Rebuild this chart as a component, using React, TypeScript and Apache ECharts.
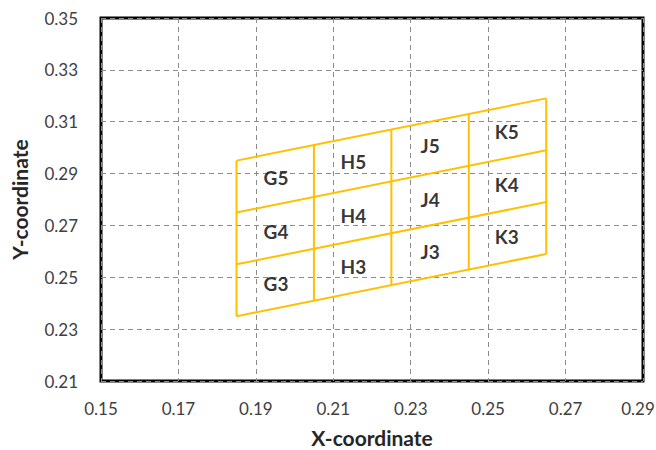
import React, { useEffect, useRef } from "react";
import * as echarts from "echarts";

// Column positions (x) of the grid's vertical lines, with their top/bottom y
const colX = [0.185, 0.205, 0.225, 0.245, 0.265];
const colTopY = [0.295, 0.301, 0.307, 0.313, 0.319];
const colBottomY = [0.235, 0.241, 0.247, 0.253, 0.259];

// Row lines: left end (x=0.185) and right end (x=0.265) y values
const rowLeftY = [0.295, 0.275, 0.255, 0.235];
const rowRightY = [0.319, 0.299, 0.279, 0.259];

// Cell labels
const cellNames = ["G5", "G4", "G3", "H5", "H4", "H3", "J5", "J4", "J3", "K5", "K4", "K3"];
const cellX = [0.1952, 0.1952, 0.1952, 0.2152, 0.2152, 0.2152, 0.235, 0.235, 0.235, 0.2548, 0.2548, 0.2548];
const cellY = [0.2883, 0.2675, 0.2476, 0.2947, 0.2739, 0.254, 0.3009, 0.2801, 0.2598, 0.3064, 0.2858, 0.2656];

const xTicks = { min: 0.15, max: 0.29, interval: 0.02 };
const yTicks = { min: 0.21, max: 0.35, interval: 0.02 };

const GOLD = "#FFC000";
const FONT = "Lato";

export default function App() {
  const ref = useRef<HTMLDivElement>(null);
  useEffect(() => {
    if (!ref.current) return;
    const chart = echarts.init(ref.current, null, { renderer: "svg" });
    const lineSeries: any[] = [];
    colX.forEach((x, i) => {
      lineSeries.push({
        type: "line",
        data: [
          [x, colBottomY[i]],
          [x, colTopY[i]],
        ],
        symbol: "none",
        lineStyle: { color: GOLD, width: 2 },
        silent: true,
      });
    });
    rowLeftY.forEach((y, i) => {
      lineSeries.push({
        type: "line",
        data: [
          [colX[0], y],
          [colX[colX.length - 1], rowRightY[i]],
        ],
        symbol: "none",
        lineStyle: { color: GOLD, width: 2 },
        silent: true,
      });
    });
    const labelData = cellNames.map((n, i) => ({ value: [cellX[i], cellY[i]], name: n }));
    const splitStyle = { show: true, lineStyle: { color: "#8c8c8c", type: [5, 4], width: 1 } };
    const tickLabelStyle = { color: "#404040", fontFamily: FONT, fontSize: 17 };
    chart.setOption({
      animation: false,
      grid: {
        left: 101,
        top: 18,
        right: 13,
        bottom: 69,
        show: true,
        borderColor: "#000",
        borderWidth: 3,
        backgroundColor: "#fff",
        outerBoundsMode: "none",
        containLabel: false,
      },
      xAxis: {
        type: "value",
        min: xTicks.min,
        max: xTicks.max,
        interval: xTicks.interval,
        axisLine: { show: false },
        axisTick: { show: false },
        splitLine: splitStyle,
        axisLabel: {
          formatter: (v: number) =>
            Math.abs(v - xTicks.max) < 1e-9 ? `{last|${v.toFixed(2)}}` : v.toFixed(2),
          ...tickLabelStyle,
          margin: 19,
          rich: { last: { ...tickLabelStyle, padding: [0, 10, 0, 0] } },
        },
        name: "X-coordinate",
        nameLocation: "middle",
        nameGap: 46,
        nameTextStyle: { fontFamily: FONT, fontSize: 21, fontWeight: "bold", color: "#262626" },
      },
      yAxis: {
        type: "value",
        min: yTicks.min,
        max: yTicks.max,
        interval: yTicks.interval,
        axisLine: { show: false },
        axisTick: { show: false },
        splitLine: splitStyle,
        axisLabel: {
          formatter: (v: number) => v.toFixed(2),
          ...tickLabelStyle,
          margin: 23,
        },
        name: "Y-coordinate",
        nameLocation: "middle",
        nameGap: 71,
        nameTextStyle: { fontFamily: FONT, fontSize: 21, fontWeight: "bold", color: "#262626" },
      },
      series: [
        ...lineSeries,
        {
          type: "scatter",
          data: labelData,
          symbolSize: 1,
          itemStyle: { color: "rgba(0,0,0,0)" },
          silent: true,
          label: {
            show: true,
            position: "inside",
            formatter: (p: any) => p.name,
            fontFamily: FONT,
            fontWeight: "bold",
            fontSize: 19,
            color: "#000",
          },
        },
      ],
    });
    return () => chart.dispose();
  }, []);
  return (
    <div
      ref={ref}
      style={{ position: "fixed", left: 0, top: 0, width: 656, height: 450, background: "#fff" }}
    />
  );
}
